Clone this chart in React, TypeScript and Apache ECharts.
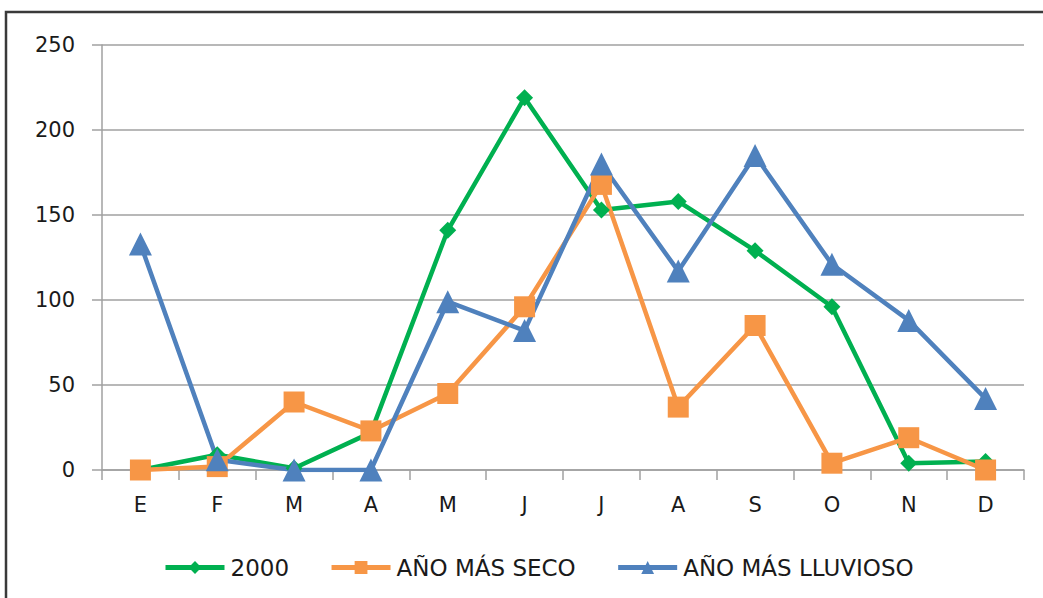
import React, { useEffect, useRef } from "react";
import * as echarts from "echarts";

const categories = ["E", "F", "M", "A", "M", "J", "J", "A", "S", "O", "N", "D"];
const yearLabel2000 = "2000";
const labelSeco = "AÑO MÁS SECO";
const labelLluvioso = "AÑO MÁS LLUVIOSO";
const values2000 = [0, 9, 1, 22, 141, 219, 153, 158, 129, 96, 4, 5];
const valuesSeco = [0, 2, 40, 23, 45, 96, 168, 37, 85, 4, 19, 0];
const valuesLluvioso = [133, 6, 0, 0, 99, 82, 180, 117, 185, 121, 88, 42];

const FONT = "'DejaVu Sans', sans-serif";

export default function App() {
  const ref = useRef<HTMLDivElement>(null);
  useEffect(() => {
    if (!ref.current) return;
    const chart = echarts.init(ref.current, null, { renderer: "svg" });
    chart.setOption({
      animation: false,
      backgroundColor: "#ffffff",
      graphic: [
        {
          type: "rect",
          shape: { x: 6, y: 12, width: 1100, height: 700 },
          style: { fill: "none", stroke: "#3a3a3a", lineWidth: 2.5 },
          silent: true,
        },
      ],
      grid: { left: 102, right: 19, top: 45, bottom: 128 },
      legend: {
        top: 551,
        left: 158,
        itemWidth: 59,
        itemHeight: 16,
        itemGap: 40,
        lineStyle: { width: 5 },
        textStyle: { fontFamily: FONT, fontSize: 23, color: "#1a1a1a", padding: [0, 0, 0, 1] },
        data: [yearLabel2000, labelSeco, labelLluvioso],
      },
      xAxis: {
        type: "category",
        data: categories,
        boundaryGap: true,
        axisLine: { lineStyle: { color: "#a0a0a0", width: 1.5 } },
        axisTick: { show: true, length: 10, lineStyle: { color: "#a0a0a0", width: 1.5 } },
        axisLabel: { fontFamily: FONT, fontSize: 21, color: "#1a1a1a", margin: 24 },
      },
      yAxis: {
        type: "value",
        min: 0,
        max: 250,
        interval: 50,
        axisLine: { show: true, lineStyle: { color: "#a0a0a0", width: 1.5 } },
        axisTick: { show: true, length: 10, lineStyle: { color: "#a0a0a0", width: 1.5 } },
        axisLabel: { fontFamily: FONT, fontSize: 21, color: "#1a1a1a", margin: 27 },
        splitLine: { lineStyle: { color: "#a0a0a0", width: 1.5 } },
      },
      series: [
        {
          name: yearLabel2000,
          type: "line",
          data: values2000,
          symbol: "diamond",
          symbolSize: 17,
          color: "#00B050",
          lineStyle: { width: 4.5 },
          itemStyle: { color: "#00B050" },
        },
        {
          name: labelSeco,
          type: "line",
          data: valuesSeco,
          symbol: "rect",
          symbolSize: 21,
          color: "#F79646",
          lineStyle: { width: 4.5 },
          itemStyle: { color: "#F79646" },
        },
        {
          name: labelLluvioso,
          type: "line",
          data: valuesLluvioso,
          symbol: "triangle",
          symbolSize: 23,
          color: "#4F81BD",
          lineStyle: { width: 4.5 },
          itemStyle: { color: "#4F81BD" },
        },
      ],
    });
    return () => chart.dispose();
  }, []);
  return (
    <div
      ref={ref}
      style={{ position: "fixed", left: 0, top: 0, width: 1043, height: 598 }}
    />
  );
}
